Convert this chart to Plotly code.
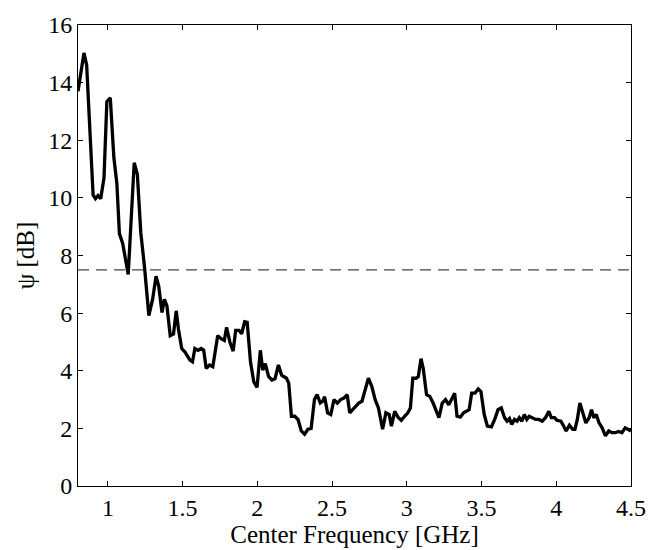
import plotly.graph_objects as go

# Center frequency (GHz) and measured psi (dB)
freq = [0.800, 0.820, 0.840, 0.858, 0.880, 0.901, 0.917, 0.934, 0.952, 0.974,
        0.993, 1.016, 1.040, 1.060, 1.077, 1.099, 1.136, 1.176, 1.197, 1.220,
        1.245, 1.274, 1.300, 1.322, 1.340, 1.362, 1.378, 1.395, 1.417, 1.439,
        1.457, 1.472, 1.494, 1.516, 1.549, 1.566, 1.582, 1.603, 1.625, 1.641,
        1.658, 1.680, 1.702, 1.735, 1.757, 1.779, 1.794, 1.816, 1.838, 1.855,
        1.878, 1.895, 1.915, 1.932, 1.954, 1.976, 1.998, 2.020, 2.036, 2.053,
        2.075, 2.097, 2.118, 2.141, 2.162, 2.195, 2.210, 2.228, 2.250, 2.272,
        2.294, 2.316, 2.338, 2.360, 2.382, 2.400, 2.421, 2.437, 2.450, 2.470,
        2.491, 2.513, 2.535, 2.557, 2.579, 2.601, 2.618, 2.645, 2.678, 2.700,
        2.721, 2.743, 2.766, 2.788, 2.810, 2.825, 2.838, 2.860, 2.882, 2.897,
        2.919, 2.941, 2.963, 2.985, 3.007, 3.024, 3.040, 3.062, 3.077, 3.095,
        3.110, 3.132, 3.154, 3.176, 3.197, 3.215, 3.237, 3.259, 3.281, 3.303,
        3.320, 3.336, 3.358, 3.380, 3.401, 3.417, 3.434, 3.456, 3.478, 3.496,
        3.518, 3.539, 3.566, 3.588, 3.610, 3.632, 3.654, 3.671, 3.687, 3.702,
        3.720, 3.737, 3.753, 3.770, 3.786, 3.803, 3.819, 3.840, 3.862, 3.884,
        3.906, 3.928, 3.950, 3.967, 3.989, 4.004, 4.031, 4.049, 4.066, 4.088,
        4.110, 4.125, 4.141, 4.158, 4.176, 4.198, 4.220, 4.236, 4.251, 4.268,
        4.286, 4.307, 4.329, 4.351, 4.373, 4.395, 4.417, 4.439, 4.461, 4.476,
        4.500]
psi_db = [13.70, 14.40, 15.03, 14.60, 12.20, 10.10, 9.97, 10.08, 9.97, 10.70,
          13.34, 13.47, 11.40, 10.50, 8.76, 8.42, 7.34, 11.22, 10.82, 8.80,
          7.60, 5.91, 6.50, 7.28, 6.94, 6.02, 6.48, 6.25, 5.22, 5.28,
          6.08, 5.45, 4.77, 4.65, 4.37, 4.31, 4.77, 4.71, 4.77, 4.71,
          4.08, 4.20, 4.14, 5.22, 5.11, 5.05, 5.51, 5.00, 4.68, 5.40,
          5.40, 5.28, 5.70, 5.68, 4.31, 3.62, 3.42, 4.71, 4.02, 4.25,
          3.80, 3.68, 3.72, 4.20, 3.85, 3.74, 3.57, 2.42, 2.42, 2.31,
          1.91, 1.80, 1.97, 2.00, 3.00, 3.17, 2.88, 2.94, 3.10, 2.54,
          2.48, 3.00, 2.88, 3.00, 3.05, 3.17, 2.54, 2.71, 2.88, 2.94,
          3.39, 3.74, 3.45, 3.00, 2.71, 2.37, 1.97, 2.54, 2.48, 2.08,
          2.59, 2.39, 2.28, 2.42, 2.54, 2.71, 3.74, 3.74, 3.80, 4.42,
          4.08, 3.17, 3.11, 2.88, 2.59, 2.37, 2.88, 3.00, 2.82, 3.05,
          3.22, 2.42, 2.39, 2.54, 2.59, 2.65, 3.22, 3.22, 3.37, 3.28,
          2.48, 2.08, 2.05, 2.31, 2.65, 2.71, 2.37, 2.25, 2.34, 2.14,
          2.31, 2.25, 2.37, 2.25, 2.48, 2.31, 2.42, 2.37, 2.31, 2.31,
          2.25, 2.37, 2.59, 2.37, 2.37, 2.28, 2.25, 2.08, 1.91, 2.11,
          1.97, 1.97, 2.31, 2.88, 2.54, 2.19, 2.37, 2.65, 2.37, 2.48,
          2.19, 2.02, 1.74, 1.91, 1.85, 1.85, 1.89, 1.85, 2.02, 1.97,
          1.91]

threshold_db = 7.5
x_ticks = [1, 1.5, 2, 2.5, 3, 3.5, 4, 4.5]
x_tick_text = ["1", "1.5", "2", "2.5", "3", "3.5", "4", "4.5"]
y_ticks = [0, 2, 4, 6, 8, 10, 12, 14, 16]

font_family = "Liberation Serif, Times New Roman, serif"
tick_size = 24
title_size = 25

fig = go.Figure()
fig.add_trace(go.Scatter(
    x=freq, y=psi_db, mode="lines",
    line=dict(color="black", width=3.3),
    showlegend=False, hoverinfo="skip",
))
fig.add_trace(go.Scatter(
    x=[0.8, 4.5], y=[threshold_db, threshold_db], mode="lines",
    line=dict(color="#444444", width=1.2, dash="11px,7px"),
    showlegend=False, hoverinfo="skip",
))

axis_common = dict(
    showline=True, linecolor="black", linewidth=1, mirror="allticks",
    ticks="inside", ticklen=5, tickwidth=1, tickcolor="black",
    showgrid=False, zeroline=False,
    tickfont=dict(family=font_family, size=tick_size, color="black"),
)

fig.update_layout(
    width=658, height=550,
    margin=dict(l=78, r=18, t=18, b=64),
    paper_bgcolor="white", plot_bgcolor="white",
    font=dict(family=font_family, color="black"),
    xaxis=dict(
        range=[0.8, 4.5], tickvals=x_ticks, ticktext=x_tick_text,
        title=dict(text="Center Frequency [GHz]", standoff=0,
                   font=dict(family=font_family, size=title_size, color="black")),
        **axis_common,
    ),
    yaxis=dict(
        range=[0, 16], tickvals=y_ticks,
        title=dict(text="ψ [dB]", standoff=6,
                   font=dict(family=font_family, size=title_size, color="black")),
        **axis_common,
    ),
)

fig.write_html("out.html")
